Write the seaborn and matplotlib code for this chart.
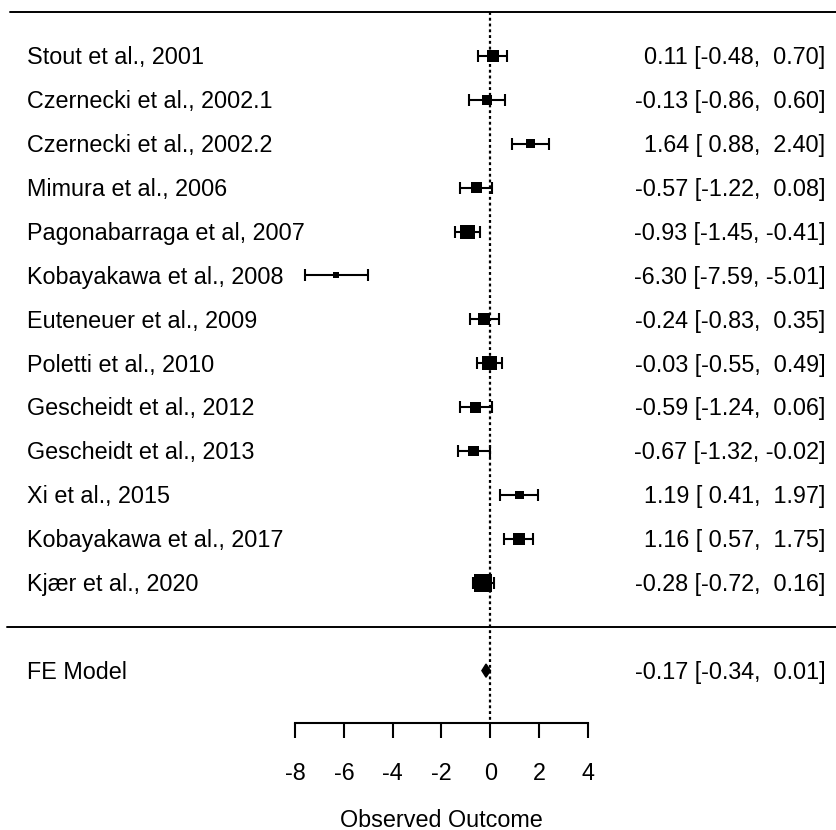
import numpy as np
import matplotlib
matplotlib.use('Agg')
import matplotlib.pyplot as plt
import seaborn as sns

# Study data (estimates with 95% CI)
studies = ['Stout et al., 2001', 'Czernecki et al., 2002.1', 'Czernecki et al., 2002.2',
           'Mimura et al., 2006', 'Pagonabarraga et al, 2007', 'Kobayakawa et al., 2008',
           'Euteneuer et al., 2009', 'Poletti et al., 2010', 'Gescheidt et al., 2012',
           'Gescheidt et al., 2013', 'Xi et al., 2015', 'Kobayakawa et al., 2017',
           'Kjær et al., 2020']
estimate = [0.11, -0.13, 1.64, -0.57, -0.93, -6.30, -0.24, -0.03, -0.59, -0.67, 1.19, 1.16, -0.28]
ci_lower = [-0.48, -0.86, 0.88, -1.22, -1.45, -7.59, -0.83, -0.55, -1.24, -1.32, 0.41, 0.57, -0.72]
ci_upper = [0.70, 0.60, 2.40, 0.08, -0.41, -5.01, 0.35, 0.49, 0.06, -0.02, 1.97, 1.75, 0.16]

model_label = 'FE Model'
model_est, model_lo, model_hi = -0.17, -0.34, 0.01

x_ticks = [-8, -6, -4, -2, 0, 2, 4]
x_label = 'Observed Outcome'

sns.set_style('white')
plt.rcParams['font.family'] = ['Liberation Sans', 'DejaVu Sans']
plt.rcParams['text.color'] = 'black'
plt.rcParams['xtick.color'] = 'black'
fs = 16.8

est = np.array(estimate)
lo = np.array(ci_lower)
hi = np.array(ci_upper)
rows = np.arange(len(studies))

# weights -> square size (like metafor: linear rescale of inverse variance)
vi = ((hi - lo) / 3.92) ** 2
wi = 1 / vi
wn = (wi - wi.min()) / (wi.max() - wi.min())
side_px = 6 + 12 * wn
sizes = (side_px * 0.72) ** 2

fig = plt.figure(figsize=(8.37, 8.30), dpi=100)
ax = fig.add_axes([0, 0, 1, 1])
ax.set_xlim(-20.07, 14.2)
ax.set_ylim(17.63, -1.275)
ax.axis('off')

# reference line at 0
ax.plot([0, 0], [-1, 15.2], color='black', lw=1.6, linestyle=(0, (1.3, 1.3)), zorder=1)

# horizontal rules
ax.plot([-19.66, 14.2], [-1, -1], color='black', lw=1.4)
ax.plot([-19.8, 14.2], [13, 13], color='black', lw=1.4)

# CIs
ax.errorbar(est, rows, xerr=[est - lo, hi - est], fmt='none', ecolor='black',
            elinewidth=1.5, capsize=4.6, capthick=1.5, zorder=2)
sns.scatterplot(x=est, y=rows, s=sizes, marker='s', color='black',
                edgecolor='black', linewidth=0, legend=False, ax=ax, zorder=3)

# summary diamond
mrow = len(studies) + 1
h = 0.15
ax.fill([model_lo, model_est, model_hi, model_est], [mrow, mrow - h, mrow, mrow + h],
        color='black', zorder=3)

# labels
for r, name, e, l, u in zip(rows, studies, est, lo, hi):
    ax.text(-18.96, r + 0.04, name, ha='left', va='center', fontsize=fs)
    ax.text(13.72, r + 0.04, f'{e:.2f} [{l:5.2f}, {u:5.2f}]', ha='right', va='center', fontsize=fs)
ax.text(-18.96, mrow + 0.04, model_label, ha='left', va='center', fontsize=fs)
ax.text(13.72, mrow + 0.04, f'{model_est:.2f} [{model_lo:5.2f}, {model_hi:5.2f}]',
        ha='right', va='center', fontsize=fs)

# x axis
ax2 = fig.add_axes([295 / 837, (830 - 723) / 830, 293 / 837, 0.0001])
ax2.set_xlim(x_ticks[0], x_ticks[-1])
ax2.set_xticks(x_ticks)
ax2.set_xticklabels([str(t) for t in x_ticks], fontsize=fs)
ax2.set_yticks([])
for s in ['top', 'left', 'right']:
    ax2.spines[s].set_visible(False)
ax2.spines['bottom'].set_linewidth(1.5)
ax2.spines['bottom'].set_color('black')
ax2.tick_params(axis='x', bottom=True, direction='out', length=11, width=1.5, pad=17,
                colors='black')
ax2.patch.set_alpha(0)
ax.text(-2, (820 - 56) / 43.9, x_label, ha='center', va='center', fontsize=fs)

fig.savefig('out.png', dpi=100)
